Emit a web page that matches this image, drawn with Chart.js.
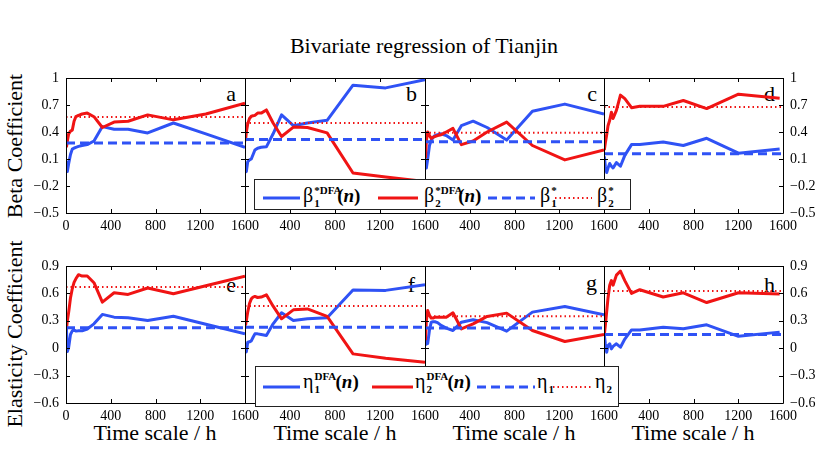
<!DOCTYPE html>
<html>
<head>
<meta charset="utf-8">
<script src="https://cdn.jsdelivr.net/npm/chart.js@4.4.1/dist/chart.umd.min.js"></script>
<style>
  body { margin: 0; background: #fff; width: 817px; height: 452px; position: relative; overflow: hidden;
         font-family: "Liberation Serif", "Times New Roman", "DejaVu Serif", serif; color: #000; }
  .panel { position: absolute; }
  .txt { position: absolute; white-space: nowrap; line-height: 1; }
  .letter { position: absolute; font-size: 22px; line-height: 22px; transform: translateX(-100%); }
  .legend { position: absolute; background: #fff; border: 1px solid #222; z-index: 5; box-sizing: border-box; }
  .key { position: absolute; }
  .lab { position: absolute; font-size: 20px; line-height: 20px; white-space: nowrap; }
  .ss { display: inline-block; position: relative; height: 20px; vertical-align: top; font-size: 11px; line-height: 11px; font-weight: bold; }
  .ss .sp { position: absolute; left: 1px; top: 0px; }
  .ss .sb { position: absolute; left: 1px; top: 13px; }
  .arg { font-weight: bold; font-size: 19px; }
</style>
</head>
<body>
<div class="txt" style="left:424px;top:46px;transform:translate(-50%,-50%);font-size:22px;">Bivariate regression of Tianjin</div>
<div class="txt" style="left:15px;top:146px;transform:translate(-50%,-50%) rotate(-90deg);font-size:22px;">Beta Coefficient</div>
<div class="txt" style="left:15px;top:334px;transform:translate(-50%,-50%) rotate(-90deg);font-size:22px;">Elasticity Coefficient</div>

<div class="txt" style="left:155px;top:433px;transform:translate(-50%,-50%);font-size:22px;">Time scale / h</div>
<div class="txt" style="left:335px;top:433px;transform:translate(-50%,-50%);font-size:22px;">Time scale / h</div>
<div class="txt" style="left:514px;top:433px;transform:translate(-50%,-50%);font-size:22px;">Time scale / h</div>
<div class="txt" style="left:693px;top:433px;transform:translate(-50%,-50%);font-size:22px;">Time scale / h</div>

<div class="letter" style="left:236px;top:83px;">a</div>
<div class="letter" style="left:417px;top:83px;">b</div>
<div class="letter" style="left:597px;top:83px;">c</div>
<div class="letter" style="left:775px;top:83px;">d</div>
<div class="letter" style="left:236px;top:274px;">e</div>
<div class="letter" style="left:415px;top:274px;">f</div>
<div class="letter" style="left:597px;top:272px;">g</div>
<div class="letter" style="left:775px;top:274px;">h</div>

<div class="legend" style="left:254px;top:179px;width:377px;height:31px;">
  <svg class="key" style="left:8px;top:15px" width="37" height="6"><line x1="0" y1="3" x2="37" y2="3" stroke="#2f52f5" stroke-width="3"/></svg>
  <span class="lab" style="left:48px;top:5px">β<span class="ss" style="width:24px"><span class="sp">*DFA</span><span class="sb">1</span></span><span class="arg">(<i>n</i>)</span></span>
  <svg class="key" style="left:123px;top:15px" width="40" height="6"><line x1="0" y1="3" x2="40" y2="3" stroke="#f01414" stroke-width="3"/></svg>
  <span class="lab" style="left:169px;top:5px">β<span class="ss" style="width:24px"><span class="sp">*DFA</span><span class="sb">2</span></span><span class="arg">(<i>n</i>)</span></span>
  <svg class="key" style="left:233px;top:15px" width="47" height="6"><line x1="0" y1="3" x2="47" y2="3" stroke="#2f52f5" stroke-width="3" stroke-dasharray="9 5"/></svg>
  <span class="lab" style="left:285px;top:5px">β<span class="ss" style="width:8px"><span class="sp">*</span><span class="sb">1</span></span></span>
  <svg class="key" style="left:300px;top:15px" width="37" height="6"><line x1="0" y1="3" x2="37" y2="3" stroke="#f01414" stroke-width="2" stroke-dasharray="1.5 3"/></svg>
  <span class="lab" style="left:342px;top:5px">β<span class="ss" style="width:8px"><span class="sp">*</span><span class="sb">2</span></span></span>
</div>

<div class="legend" style="left:255px;top:366px;width:364px;height:41px;">
  <svg class="key" style="left:7px;top:17px" width="37" height="6"><line x1="0" y1="3" x2="37" y2="3" stroke="#2f52f5" stroke-width="3"/></svg>
  <span class="lab" style="left:47px;top:4px">η<span class="ss" style="width:22px"><span class="sp">DFA</span><span class="sb">1</span></span><span class="arg">(<i>n</i>)</span></span>
  <svg class="key" style="left:116px;top:17px" width="41" height="6"><line x1="0" y1="3" x2="41" y2="3" stroke="#f01414" stroke-width="3"/></svg>
  <span class="lab" style="left:159px;top:4px">η<span class="ss" style="width:22px"><span class="sp">DFA</span><span class="sb">2</span></span><span class="arg">(<i>n</i>)</span></span>
  <svg class="key" style="left:221px;top:17px" width="58" height="6"><line x1="0" y1="3" x2="58" y2="3" stroke="#2f52f5" stroke-width="3" stroke-dasharray="9 5"/></svg>
  <span class="lab" style="left:281px;top:4px">η<span class="ss" style="width:8px"><span class="sb">1</span></span></span>
  <svg class="key" style="left:297px;top:17px" width="39" height="6"><line x1="0" y1="3" x2="39" y2="3" stroke="#f01414" stroke-width="2" stroke-dasharray="1.5 3"/></svg>
  <span class="lab" style="left:339px;top:4px">η<span class="ss" style="width:8px"><span class="sb">2</span></span></span>
</div>

<script>
// time scales n (h) at which the DFA coefficients were estimated
const nMain = [4, 12, 24, 40, 56, 72, 88, 112, 144, 190, 250, 325, 430, 555, 730, 960, 1250, 1600];
const nRight = [3, 12, 24, 36, 51, 66, 81, 111, 147, 186, 246, 320, 529, 709, 918, 1202, 1570];

const timeTicks = [0, 400, 800, 1200, 1600];
const betaTicks = [-0.5, -0.2, 0.1, 0.4, 0.7, 1];
const etaTicks = [-0.6, -0.3, 0, 0.3, 0.6, 0.9];

// beta coefficients, panels a-d
const beta1A = [0.08, -0.04, 0.05, 0.15, 0.21, 0.22, 0.23, 0.24, 0.25, 0.26, 0.30, 0.46, 0.43, 0.43, 0.39, 0.50, 0.38, 0.23];
const beta2A = [0.23, 0.30, 0.38, 0.41, 0.42, 0.52, 0.57, 0.585, 0.60, 0.61, 0.57, 0.45, 0.51, 0.52, 0.59, 0.535, 0.60, 0.72];
const beta1B = [0.0, -0.04, 0.07, 0.09, 0.10, 0.15, 0.20, 0.22, 0.23, 0.235, 0.38, 0.59, 0.47, 0.50, 0.53, 0.92, 0.89, 0.98];
const beta2B = [0.30, 0.40, 0.49, 0.55, 0.575, 0.58, 0.585, 0.61, 0.61, 0.645, 0.50, 0.35, 0.455, 0.45, 0.39, -0.055, -0.10, -0.15];
const beta1C = [0.03, 0.0, 0.10, 0.25, 0.31, 0.34, 0.36, 0.37, 0.38, 0.36, 0.31, 0.47, 0.52, 0.45, 0.31, 0.63, 0.71, 0.60];
const beta2C = [0.11, 0.30, 0.40, 0.36, 0.33, 0.34, 0.35, 0.36, 0.37, 0.40, 0.44, 0.26, 0.30, 0.40, 0.51, 0.25, 0.09, 0.20];
const beta1D = [0.13, 0.02, -0.05, 0.00, 0.05, 0.02, 0.00, 0.06, 0.02, 0.14, 0.26, 0.26, 0.29, 0.25, 0.33, 0.165, 0.21];
const beta2D = [0.20, 0.28, 0.37, 0.47, 0.53, 0.62, 0.55, 0.64, 0.81, 0.77, 0.67, 0.685, 0.685, 0.75, 0.66, 0.82, 0.775];

// elasticity coefficients, panels e-h
const eta1E = [0.21, -0.037, 0.011, 0.15, 0.19, 0.20, 0.187, 0.19, 0.19, 0.21, 0.267, 0.37, 0.34, 0.333, 0.304, 0.35, 0.263, 0.157];
const eta2E = [0.21, 0.30, 0.395, 0.55, 0.65, 0.72, 0.76, 0.805, 0.79, 0.79, 0.717, 0.505, 0.607, 0.589, 0.659, 0.596, 0.683, 0.787];
const eta1F = [0.0, -0.04, 0.066, 0.07, 0.08, 0.12, 0.157, 0.157, 0.15, 0.14, 0.267, 0.388, 0.304, 0.322, 0.333, 0.637, 0.633, 0.695];
const eta2F = [0.25, 0.30, 0.395, 0.49, 0.54, 0.56, 0.567, 0.555, 0.56, 0.585, 0.46, 0.322, 0.42, 0.43, 0.348, -0.062, -0.11, -0.154];
const eta1G = [0.03, 0.10, 0.05, 0.20, 0.285, 0.29, 0.29, 0.28, 0.25, 0.22, 0.194, 0.285, 0.311, 0.28, 0.187, 0.395, 0.457, 0.366];
const eta2G = [0.088, 0.30, 0.413, 0.36, 0.33, 0.33, 0.34, 0.34, 0.34, 0.34, 0.388, 0.212, 0.267, 0.348, 0.384, 0.194, 0.073, 0.15];
const eta1H = [0.146, 0.05, -0.044, 0.03, 0.048, -0.007, 0.02, 0.048, 0.011, 0.10, 0.20, 0.20, 0.23, 0.212, 0.256, 0.13, 0.176];
const eta2H = [0.15, 0.25, 0.40, 0.55, 0.69, 0.74, 0.69, 0.80, 0.845, 0.74, 0.60, 0.64, 0.56, 0.607, 0.50, 0.607, 0.593];

// whole-series regression values (flat reference lines)
const beta1Star = [0.278, 0.318, 0.292, 0.159];
const beta2Star = [0.567, 0.50, 0.392, 0.678];
const eta1Star = [0.223, 0.23, 0.22, 0.15];
const eta2Star = [0.67, 0.461, 0.351, 0.626];

const blue = "#2f52f5";
const red = "#f01414";

// layout of the 4x2 grid (page pixels)
const colLeft = [66, 245, 425, 604];
const colRight = [245, 425, 604, 783];
const rowTop = [78, 266];
const rowBottom = [213, 403];
const ML = 50, MR = 50, MT = 10, MB = 32;

// box + inward ticks like the matlab axes
const frame = {
  id: "frame",
  afterDatasetsDraw(chart) {
    const { ctx, chartArea: a } = chart;
    const x = chart.scales.x, y = chart.scales.y;
    ctx.save();
    ctx.strokeStyle = "#000";
    ctx.lineWidth = 1;
    ctx.beginPath();
    ctx.rect(a.left + 0.5, a.top + 0.5, a.right - a.left, a.bottom - a.top);
    x.ticks.forEach((t) => {
      const px = Math.round(x.getPixelForValue(t.value)) + 0.5;
      ctx.moveTo(px, a.bottom); ctx.lineTo(px, a.bottom - 4);
      ctx.moveTo(px, a.top); ctx.lineTo(px, a.top + 4);
    });
    y.ticks.forEach((t) => {
      const py = Math.round(y.getPixelForValue(t.value)) + 0.5;
      ctx.moveTo(a.left, py); ctx.lineTo(a.left + 4, py);
      ctx.moveTo(a.right, py); ctx.lineTo(a.right - 4, py);
    });
    ctx.stroke();
    ctx.restore();
  },
};

const fmt = (v) => (v < 0 ? "\u2212" : "") + Math.abs(v);

// keep the layout from reserving extra room for edge labels
const noPad = (s) => { s.paddingTop = 0; s.paddingBottom = 0; s.paddingLeft = 0; s.paddingRight = 0; };

let series = (xs, ys, color, order) => ({
  data: xs.map((x, i) => ({ x: x, y: ys[i] })),
  borderColor: color,
  borderWidth: 3,
  borderJoinStyle: "round",
  pointRadius: 0,
  tension: 0,
  order: order,
});

let flat = (v, color, dash, width, order) => ({
  data: [{ x: 0, y: v }, { x: 1600, y: v }],
  borderColor: color,
  borderWidth: width,
  borderDash: dash,
  pointRadius: 0,
  order: order,
});

const panels = [
  { col: 0, row: 0, n: nMain, s1: beta1A, s2: beta2A, c1: beta1Star[0], c2: beta2Star[0] },
  { col: 1, row: 0, n: nMain, s1: beta1B, s2: beta2B, c1: beta1Star[1], c2: beta2Star[1] },
  { col: 2, row: 0, n: nMain, s1: beta1C, s2: beta2C, c1: beta1Star[2], c2: beta2Star[2] },
  { col: 3, row: 0, n: nRight, s1: beta1D, s2: beta2D, c1: beta1Star[3], c2: beta2Star[3] },
  { col: 0, row: 1, n: nMain, s1: eta1E, s2: eta2E, c1: eta1Star[0], c2: eta2Star[0] },
  { col: 1, row: 1, n: nMain, s1: eta1F, s2: eta2F, c1: eta1Star[1], c2: eta2Star[1] },
  { col: 2, row: 1, n: nMain, s1: eta1G, s2: eta2G, c1: eta1Star[2], c2: eta2Star[2] },
  { col: 3, row: 1, n: nRight, s1: eta1H, s2: eta2H, c1: eta1Star[3], c2: eta2Star[3] },
];

panels.forEach((p) => {
  const w = colRight[p.col] - colLeft[p.col];
  const h = rowBottom[p.row] - rowTop[p.row];
  const yTicks = p.row === 0 ? betaTicks : etaTicks;
  const onRight = p.col === 3;

  const box = document.createElement("div");
  box.className = "panel";
  box.style.left = colLeft[p.col] - ML + "px";
  box.style.top = rowTop[p.row] - MT + "px";
  const cv = document.createElement("canvas");
  cv.width = w + ML + MR;
  cv.height = h + MT + MB;
  box.appendChild(cv);
  document.body.appendChild(box);

  new Chart(cv, {
    type: "line",
    data: {
      datasets: [
        flat(p.c2, red, [1.5, 3], 2, 0),
        flat(p.c1, blue, [9, 5], 3, 1),
        series(p.n, p.s2, red, 2),
        series(p.n, p.s1, blue, 3),
      ],
    },
    plugins: [frame],
    options: {
      responsive: false,
      animation: false,
      layout: { padding: onRight ? { left: ML, top: MT } : { right: MR, top: MT } },
      plugins: { legend: { display: false }, tooltip: { enabled: false } },
      scales: {
        x: {
          type: "linear",
          min: 0,
          max: 1600,
          grid: { display: false, drawTicks: false },
          border: { display: false },
          afterBuildTicks: (s) => { s.ticks = timeTicks.map((v) => ({ value: v })); },
          afterFit: (s) => { s.height = MB; noPad(s); },
          ticks: {
            maxRotation: 0,
            autoSkip: false,
            padding: 5,
            color: "#000",
            font: { family: "Liberation Serif", size: 14 },
            callback: (v) => (v === 0 && p.col > 0 ? "" : String(v)),
          },
        },
        y: {
          type: "linear",
          position: onRight ? "right" : "left",
          min: yTicks[0],
          max: yTicks[yTicks.length - 1],
          grid: { display: false, drawTicks: false },
          border: { display: false },
          afterBuildTicks: (s) => { s.ticks = yTicks.map((v) => ({ value: v })); },
          afterFit: (s) => { s.width = onRight ? MR : ML; noPad(s); },
          ticks: {
            display: p.col === 0 || onRight,
            padding: 7,
            color: "#000",
            font: { family: "Liberation Serif", size: 14 },
            callback: (v) => fmt(v),
          },
        },
      },
    },
  });
});
</script>
</body>
</html>
